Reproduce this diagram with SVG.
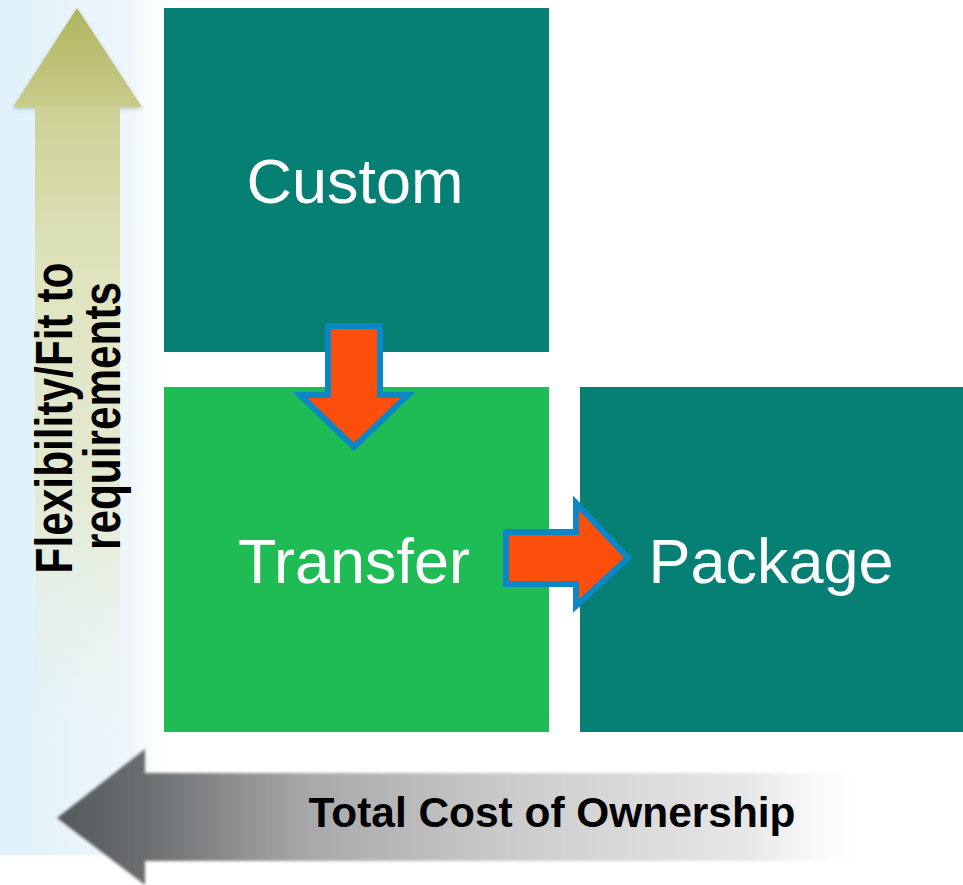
<svg xmlns="http://www.w3.org/2000/svg" width="963" height="885" viewBox="0 0 963 885">
  <defs>
    <linearGradient id="panelGrad" x1="0" y1="0" x2="1" y2="0">
      <stop offset="0" stop-color="#dff1fa"/>
      <stop offset="0.75" stop-color="#eef7fb"/>
      <stop offset="1" stop-color="#ffffff" stop-opacity="0"/>
    </linearGradient>
    <linearGradient id="headGrad" x1="0" y1="0" x2="0" y2="1">
      <stop offset="0" stop-color="#b0b45e"/>
      <stop offset="1" stop-color="#c8cc8c"/>
    </linearGradient>
    <linearGradient id="shaftGrad" x1="0" y1="0" x2="0" y2="1">
      <stop offset="0" stop-color="#cdd195"/>
      <stop offset="0.25" stop-color="#dfe3bd"/>
      <stop offset="0.6" stop-color="#e2e7c8" stop-opacity="0.8"/>
      <stop offset="1" stop-color="#e8efe0" stop-opacity="0"/>
    </linearGradient>
    <linearGradient id="costGrad" gradientUnits="userSpaceOnUse" x1="57" y1="0" x2="878" y2="0">
      <stop offset="0" stop-color="#54585a"/>
      <stop offset="0.12" stop-color="#6e7174"/>
      <stop offset="0.3" stop-color="#a6a7a9"/>
      <stop offset="0.55" stop-color="#cbcbcb"/>
      <stop offset="0.85" stop-color="#e8e8e8"/>
      <stop offset="1" stop-color="#ffffff" stop-opacity="0"/>
    </linearGradient>
    <filter id="soft" x="-5%" y="-10%" width="110%" height="120%">
      <feGaussianBlur stdDeviation="1.6"/>
    </filter>
    <filter id="shadow" x="-10%" y="-10%" width="120%" height="130%">
      <feGaussianBlur in="SourceAlpha" stdDeviation="2"/>
      <feOffset dx="0" dy="2" result="b"/>
      <feComponentTransfer><feFuncA type="linear" slope="0.2"/></feComponentTransfer>
      <feMerge><feMergeNode/><feMergeNode in="SourceGraphic"/></feMerge>
    </filter>
    <style>
      .box-teal { fill: #067f75; }
      .box-green { fill: #1fbb55; }
      .label { font-family: "Liberation Sans", Arial, sans-serif; font-size: 63px; fill: #ffffff; text-anchor: middle; }
      .axis { font-family: "Liberation Sans", Arial, sans-serif; font-weight: bold; fill: #000000; text-anchor: middle; }
      .flow { fill: #fd4f0c; stroke: #0b87c5; stroke-width: 6; stroke-linejoin: miter; }
    </style>
  </defs>

  <rect x="0" y="0" width="963" height="885" fill="#ffffff"/>

  <g id="y-axis">
    <rect x="0" y="0" width="175" height="855" fill="url(#panelGrad)"/>
    <g filter="url(#shadow)">
      <polygon points="77,8 142,107 13,107" fill="url(#headGrad)"/>
    </g>
    <rect x="35" y="106" width="85" height="636" fill="url(#shaftGrad)"/>
    <text class="axis" font-size="51" transform="translate(72,418) rotate(-90)" textLength="311" lengthAdjust="spacingAndGlyphs">Flexibility/Fit to</text>
    <text class="axis" font-size="51" transform="translate(120,416) rotate(-90)" textLength="268" lengthAdjust="spacingAndGlyphs">requirements</text>
  </g>

  <g id="x-axis">
    <polygon points="57,818 145,749 145,773 878,773 878,861 145,861 145,885" fill="url(#costGrad)" filter="url(#soft)"/>
    <text class="axis" font-size="43" x="552" y="827" textLength="487" lengthAdjust="spacingAndGlyphs">Total Cost of Ownership</text>
  </g>

  <g id="custom">
    <rect class="box-teal" x="164" y="8" width="385" height="344"/>
    <text class="label" x="355" y="203">Custom</text>
  </g>

  <g id="transfer">
    <rect class="box-green" x="164" y="387" width="385" height="345"/>
    <text class="label" x="354" y="583">Transfer</text>
  </g>

  <g id="package">
    <rect class="box-teal" x="580" y="387" width="383" height="345"/>
    <text class="label" x="771" y="583">Package</text>
  </g>

  <g id="connectors">
    <polygon class="flow" points="328,326 380,326 380,395 408,395 354,447 300,395 328,395"/>
    <polygon class="flow" points="506,532 576,532 576,503 628,558 576,606 576,584 506,584"/>
  </g>
</svg>
